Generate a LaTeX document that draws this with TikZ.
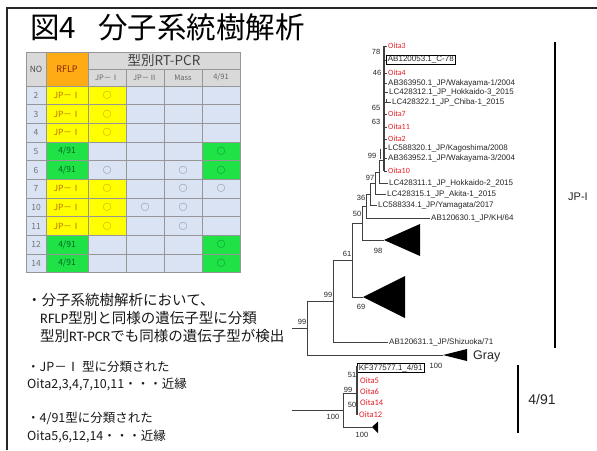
\documentclass[tikz,border=0pt]{standalone}
\usepackage{fontspec}
\newfontfamily\jp{Noto Sans CJK JP}
\newfontfamily\jpb{Noto Sans CJK JP Bold}
\newfontfamily\ar{Liberation Sans}
\newfontfamily\carl{Carlito}
\definecolor{tblue}{RGB}{218,227,243}
\definecolor{thead}{RGB}{217,217,217}
\definecolor{torange}{RGB}{255,172,20}
\definecolor{tyellow}{RGB}{255,255,0}
\definecolor{tgreen}{RGB}{30,226,70}
\definecolor{tgrid}{RGB}{150,150,150}
\definecolor{oitared}{RGB}{230,30,40}
\definecolor{ybrown}{RGB}{185,110,0}
\definecolor{gdark}{RGB}{0,105,35}
\definecolor{rflpred}{RGB}{140,30,0}
\begin{document}
\begin{tikzpicture}[x=1pt,y=-1pt,
  grid/.style={draw=tgrid,line width=0.6pt},
  hd/.style={font=\jp\fontsize{7.5}{8}\selectfont,text=black!60,inner sep=0pt},
  cell/.style={font=\jp\fontsize{8.5}{9}\selectfont,inner sep=0pt},
  mk/.style={font=\jp\fontsize{8.5}{9}\selectfont,inner sep=0pt},
  tl/.style={font=\ar\fontsize{8}{9}\selectfont,text=black!85,anchor=west,inner xsep=1pt,inner ysep=0.5pt},
  ol/.style={font=\carl\fontsize{8}{9}\selectfont,text=oitared,anchor=west,inner xsep=1pt,inner ysep=0.5pt},
  boxl/.style={tl,draw=black,line width=0.8pt,inner xsep=1.5pt,inner ysep=1.2pt},
  bs/.style={font=\ar\fontsize{7.5}{8}\selectfont,text=black!85,inner sep=0pt},
  br/.style={draw=black!75,line width=0.6pt},
  brt/.style={draw=black!75,line width=1.3pt},
  bar/.style={draw=black,line width=2.4pt},
  jtxt/.style={font=\jp\fontsize{14.5}{16}\selectfont,anchor=west,inner sep=0pt,text=black!90},
  jsm/.style={font=\jp\fontsize{12.5}{14}\selectfont,anchor=west,inner sep=0pt,text=black!90}]
\useasboundingbox (0,0) rectangle (597,450);
\fill[white] (0,0) rectangle (597,450);
% frame
\draw[line width=1.6pt,black!85] (7,450) -- (7,8) -- (597,8);
% title
\node[font=\jp\fontsize{29.5}{31}\selectfont,anchor=west,inner sep=0pt] (title) at (30,27) {図4\hspace{0.75em}分子系統樹解析};

% ---------- table ----------
\fill[thead] (26,52) rectangle (46,86);
\fill[torange] (46,52) rectangle (88,86);
\fill[thead] (88,52) rectangle (240,86);
\fill[tblue] (26,86) rectangle (240,272.7);
\foreach \r/\no/\t/\a/\b/\c/\d in {0/2/1/1/0/0/0,1/3/1/1/0/0/0,2/4/1/1/0/0/0,3/5/2/0/0/0/1,4/6/2/1/0/1/1,5/7/1/1/0/1/1,6/10/1/1/1/1/0,7/11/1/1/0/1/0,8/12/2/0/0/0/1,9/14/2/0/0/0/1}{
  \pgfmathsetmacro\yt{86+18.67*\r}
  \pgfmathsetmacro\yb{\yt+18.67}
  \pgfmathsetmacro\yc{\yt+9.33}
  \ifnum\t=1
    \fill[tyellow] (46,\yt) rectangle (126,\yb);
    \node[cell,text=ybrown] (rf\r) at (67,\yc) {JP－Ⅰ};
  \else
    \fill[tgreen] (46,\yt) rectangle (88,\yb);
    \fill[tgreen] (202,\yt) rectangle (240,\yb);
    \node[cell,text=gdark] (rf\r) at (67,\yc) {4/91};
  \fi
  \node[cell,text=black!55] (no\r) at (36,\yc) {\no};
  \ifnum\a=1
    \ifnum\t=1 \node[mk,text=ybrown] (ma\r) at (107,\yc) {○};
    \else \node[mk,text=black!60] (ma\r) at (107,\yc) {○}; \fi
  \fi
  \ifnum\b=1 \node[mk,text=black!60] (mb\r) at (145,\yc) {○}; \fi
  \ifnum\c=1 \node[mk,text=black!60] (mc\r) at (183,\yc) {○}; \fi
  \ifnum\d=1
    \ifnum\t=2 \node[mk,text=gdark] (md\r) at (221,\yc) {○};
    \else \node[mk,text=black!60] (md\r) at (221,\yc) {○}; \fi
  \fi
}
% grid
\foreach \x in {26,46,88,240} \draw[grid] (\x,52) -- (\x,272.7);
\foreach \x in {126,164,202} \draw[grid] (\x,69) -- (\x,272.7);
\draw[grid] (26,52) -- (240,52);
\draw[grid] (88,69) -- (240,69);
\foreach \r in {0,...,10} \draw[grid] (26,86+18.67*\r) -- (240,86+18.67*\r);
% header text
\node[font=\jp\fontsize{8.5}{9}\selectfont,text=black!70,inner sep=0pt] (hno) at (36,69) {NO};
\node[font=\jp\fontsize{9}{9}\selectfont,text=rflpred,inner sep=0pt] (hrf) at (67,69) {RFLP};
\node[font=\jp\fontsize{13.5}{14}\selectfont,text=black!75,inner sep=0pt] (hrt) at (164,60.5) {型別RT-PCR};
\node[hd] (h1) at (107,77.5) {JP－Ⅰ};
\node[hd] (h2) at (145,77.5) {JP－Ⅱ};
\node[hd] (h3) at (183,77.5) {Mass};
\node[hd] (h4) at (221,77.5) {4/91};

% ---------- bottom-left text ----------
\node[jtxt] (tx1) at (27,300) {・分子系統樹解析において、};
\node[jtxt] (tx2) at (40,318) {{\carl RFLP}型別と同様の遺伝子型に分類};
\node[jtxt] (tx3) at (40,336) {型別{\carl RT-PCR}でも同様の遺伝子型が検出};
\node[jsm] (tx4) at (27,367) {・JP－Ⅰ 型に分類された};
\node[jsm] (tx5) at (27,384) {Oita2,3,4,7,10,11・・・近縁};
\node[jsm] (tx6) at (27,418) {・4/91型に分類された};
\node[jsm] (tx7) at (27,436) {Oita5,6,12,14・・・近縁};

% ---------- tree: JP-I part ----------
\coordinate (ct) at (384,46);
\coordinate (cb) at (384,171);
\node[ol] (o3) at (387,46) {Oita3};
\node[boxl] (c78) at (386,60) {AB120053.1\_C-78};
\node[ol] (o4) at (387,73) {Oita4};
\node[tl] (w1) at (387,83) {AB363950.1\_JP/Wakayama-1/2004};
\node[tl] (h3a) at (388,92.5) {LC428312.1\_JP\_Hokkaido-3\_2015};
\node[tl] (cb1) at (391,102) {LC428322.1\_JP\_Chiba-1\_2015};
\node[ol] (o7) at (387,114) {Oita7};
\node[ol] (o11) at (387,127) {Oita11};
\node[ol] (o2) at (387,139) {Oita2};
\node[tl] (kg) at (387,148.5) {LC588320.1\_JP/Kagoshima/2008};
\node[tl] (w3) at (387,158.5) {AB363952.1\_JP/Wakayama-3/2004};
\node[ol] (o10) at (387,171) {Oita10};
\node[tl] (l311) at (388,183.5) {LC428311.1\_JP\_Hokkaido-2\_2015};
\node[tl] (l315) at (386,194.5) {LC428315.1\_JP\_Akita-1\_2015};
\node[tl] (l334) at (377,205.5) {LC588334.1\_JP/Yamagata/2017};
\node[tl] (l630) at (430,218) {AB120630.1\_JP/KH/64};
\node[tl] (l631) at (388,342) {AB120631.1\_JP/Shizuoka/71};

\draw[brt] (ct) -- (cb);
\foreach \l in {o3,c78,o4,w1,h3a,o7,o11,o2,kg,w3,o10} \draw[br] (ct |- \l.west) -- (\l.west);
\draw[br] (ct |- cb1.west) -- ++(2.5,0) -- ++(0,-3);
\draw[br] (387,102) -- (cb1.west);
\draw[br] (380.5,148.5) -- (380.5,158.5);

\coordinate (c0) at (384,160);
\coordinate (n1) at (379,172);
\coordinate (n2) at (375,183.5);
\coordinate (n3) at (370,194.75);
\coordinate (n4) at (366,206.4);
\coordinate (n5) at (362,223.2);
\coordinate (n6) at (352,260.1);
\coordinate (n7) at (333,301);
\coordinate (n8) at (307,328);
\coordinate (r1) at (292,328);
\coordinate (t1) at (384,240);
\coordinate (t2) at (363,297);
\coordinate (tg) at (443,355);

\draw[br] (c0) -| (n1 |- l311.west) -- (l311.west);
\draw[br] (n1) -| (n2 |- l315.west) -- (l315.west);
\draw[br] (n2) -| (n3 |- l334.west) -- (l334.west);
\draw[br] (n3) -| (n4 |- l630.west) -- (l630.west);
\draw[br] (n4) -| (n5 |- t1) -- (t1);
\draw[br] (n5) -| (n6 |- t2) -- (t2);
\draw[br] (n6) -| (n7 |- l631.west) -- (l631.west);
\draw[br] (n7) -| (n8 |- tg) -- (tg);
\draw[br] (n8) -- (r1);

\fill[black] (t1) -- (420,224) -- (420,256) -- cycle;
\fill[black] (t2) -- (405,276) -- (405,318) -- cycle;
\fill[black] (tg) -- (467,349) -- (467,361) -- cycle;
\node[font=\ar\fontsize{12.5}{13}\selectfont,anchor=west,inner sep=0pt,text=black!85] (gray) at (473,356) {Gray};

% bootstrap values
\node[bs] (b78) at (376,52) {78};
\node[bs] (b46) at (377,72.5) {46};
\node[bs] (b65) at (376,108) {65};
\node[bs] (b63) at (376,122) {63};
\node[bs] (b99a) at (372,156) {99};
\node[bs] (b97) at (370,178) {97};
\node[bs] (b36) at (361,198) {36};
\node[bs] (b50) at (357,214) {50};
\node[bs] (b98) at (378,251) {98};
\node[bs] (b61) at (347,254) {61};
\node[bs] (b69) at (361,307) {69};
\node[bs] (b99b) at (328,295) {99};
\node[bs] (b99c) at (302,322) {99};

% ---------- tree: 4/91 part ----------
\coordinate (r2) at (292,410);
\coordinate (m1) at (343,410);
\coordinate (m2t) at (357,366);
\coordinate (m2b) at (357,415);
\coordinate (t3) at (372,427);
\node[boxl] (kf) at (357,368) {KF377577.1\_4/91};
\node[ol,font=\carl\fontsize{8.5}{9}\selectfont] (o5) at (359,381) {Oita5};
\node[ol,font=\carl\fontsize{8.5}{9}\selectfont] (o6) at (359,391.5) {Oita6};
\node[ol,font=\carl\fontsize{8.5}{9}\selectfont] (o14) at (359,403) {Oita14};
\node[ol,font=\carl\fontsize{8.5}{9}\selectfont] (o12) at (358,414.5) {Oita12};
\draw[brt] (m2t) -- (m2b);
\draw[br] (r2) -- (m1);
\draw[br] (m1) -- (m1 |- 0,393) -- (m2t |- 0,393);
\draw[br] (m1) -- (m1 |- t3) -- (t3);
\fill[black] (t3) -- (378,421.5) -- (378,433) -- cycle;
\node[bs] (b51) at (352,375) {51};
\node[bs] (b99d) at (348,390) {99};
\node[bs] (b50b) at (352,405) {50};
\node[bs] (b100a) at (333,417) {100};
\node[bs] (b100b) at (362,435) {100};
\node[bs] (b100c) at (436,366) {100};

% ---------- clade bars ----------
\coordinate (jt) at (555,42);
\coordinate (jb) at (555,348);
\draw[bar] (jt) -- (jb);
\node[font=\ar\fontsize{11}{12}\selectfont,inner sep=0pt,text=black!85] (jpl) at (578,197) {JP-I};
\coordinate (ft) at (518,365);
\coordinate (fb) at (518,433);
\draw[bar] (ft) -- (fb);
\node[font=\ar\fontsize{14}{15}\selectfont,inner sep=0pt,text=black!85] (fl) at (542,399) {4/91};
\end{tikzpicture}
\end{document}
